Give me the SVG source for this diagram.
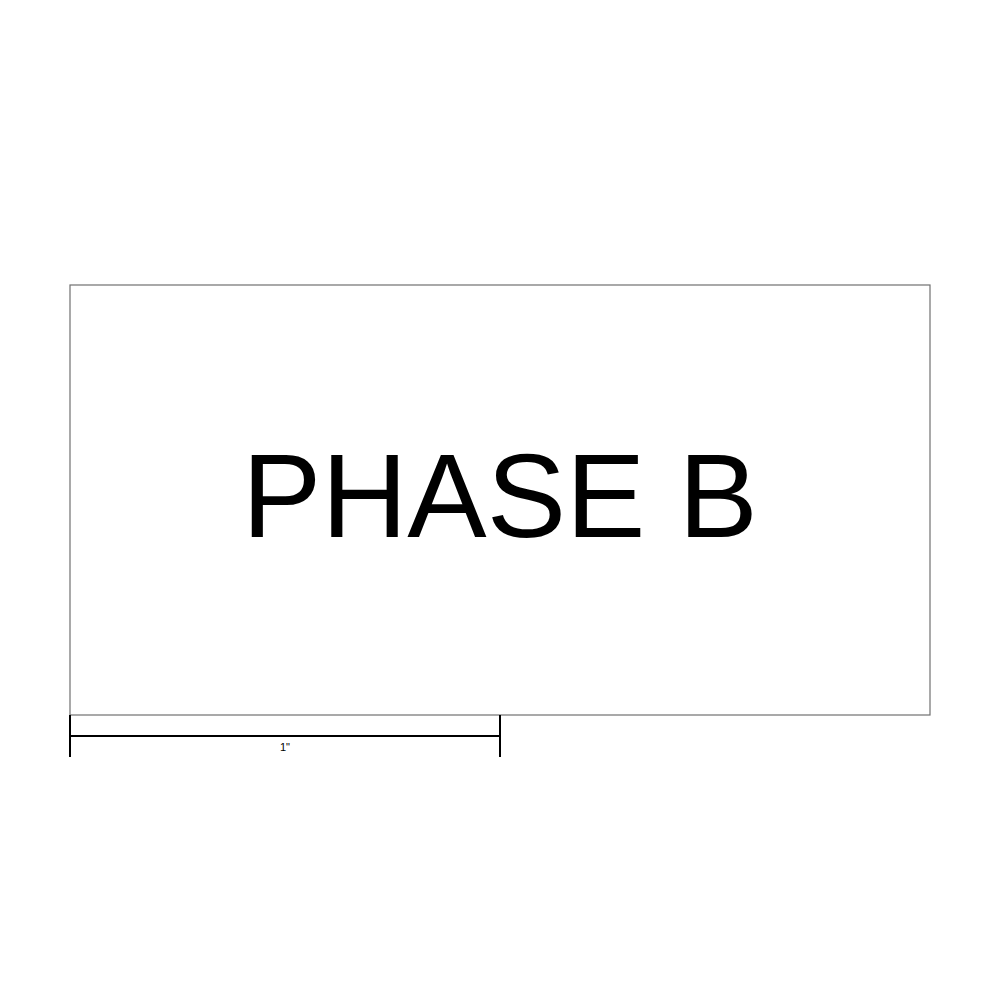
<svg xmlns="http://www.w3.org/2000/svg" width="1000" height="1000" viewBox="0 0 1000 1000">
<style>
.frame{fill:#fff;stroke:#707070;stroke-width:1.2}
.dim{stroke:#000;stroke-width:2;fill:none}
.t{font-family:"Liberation Sans",Arial,sans-serif;fill:#000;text-anchor:middle}
</style>
<rect width="1000" height="1000" fill="#fff"/>
<g id="label">
<rect class="frame" x="70" y="285" width="860" height="430"/>
<text class="t" x="500" y="537" font-size="119">PHASE B</text>
</g>
<g id="dimension">
<line class="dim" x1="70" y1="715" x2="70" y2="757"/>
<line class="dim" x1="500" y1="715" x2="500" y2="757"/>
<line class="dim" x1="70" y1="736" x2="500" y2="736"/>
<text class="t" x="285" y="751" font-size="11">1"</text>
</g>
</svg>
